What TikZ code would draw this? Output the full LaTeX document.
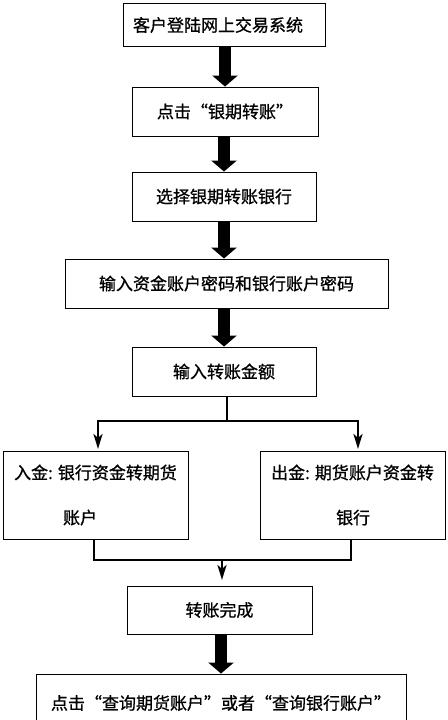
\documentclass[tikz,border=0pt]{standalone}
\usepackage{fontspec}
\newfontfamily\cjk[FakeBold=0.8]{Noto Sans CJK SC}
\usetikzlibrary{arrows.meta}
\begin{document}
\begin{tikzpicture}[x=1pt,y=1pt,
  box/.style={draw=black, line width=0.9pt, inner sep=0pt, align=center,
    font=\cjk\fontsize{17}{45}\selectfont},
  twoline/.style={box, align=left},
  bigarrow/.style={line width=12pt, -{Triangle[length=11pt,width=25pt]}},
  thinline/.style={line width=2.6pt},
  thinarrow/.style={line width=2.6pt, -{Stealth[length=15pt,width=9pt,inset=4pt]}}
]
\useasboundingbox (0,0) rectangle (447,-720);
\fill[white] (0,0) rectangle (447,-720);

\node[box, minimum width=202pt, minimum height=43pt] (b1) at (224,-25) {\hspace*{-12pt}客户登陆网上交易系统};
\node[box, minimum width=186pt, minimum height=49pt] (b2) at (225,-111.5) {点击“银期转账”};
\node[box, minimum width=184pt, minimum height=49pt] (b3) at (224,-196.5) {选择银期转账银行};
\node[box, minimum width=323pt, minimum height=49pt] (b4) at (226.5,-283.5) {输入资金账户密码和银行账户密码};
\node[box, minimum width=184pt, minimum height=49pt] (b5) at (224,-371.5) {输入转账金额};
\node[twoline, minimum width=185pt, minimum height=88pt] (b6) at (95.5,-495) {入金: 银行资金转期货\\\hspace*{49pt}账户};
\node[twoline, minimum width=185pt, minimum height=88pt] (b7) at (352.5,-495) {出金: 期货账户资金转\\\hspace*{65pt}银行};
\node[box, minimum width=185pt, minimum height=48pt] (b8) at (219.5,-610) {转账完成};
\node[box, minimum width=370pt, minimum height=58pt] (b9) at (221,-703) {点击“查询期货账户”或者“查询银行账户”};

% big arrows
\draw[bigarrow] (b1.south -| b2.north) -- (b2.north);
\draw[bigarrow] (b2.south -| b3.north) -- (b3.north);
\draw[bigarrow] (b3.south -| b3.north) -- (b4.north -| b3.north);
\draw[bigarrow] (b4.south -| b5.north) -- (b5.north);
\draw[bigarrow] (b8.south -| b9.north) -- (b9.north);

% split
\coordinate (split) at (227,-421);
\coordinate (j6) at (98,-449);
\coordinate (j7) at (358,-449);
\draw[thinline] (split |- b5.south) -- (split);
\draw[thinarrow] (split) -| (j6);
\draw[thinarrow] (split) -| (j7);

% merge
\coordinate (m6) at (94,-539);
\coordinate (m7) at (351,-539);
\coordinate (m) at (222,-560);
\coordinate (m8) at (222,-580);
\draw[thinline] (m6) |- (m) -| (m7);
\draw[thinarrow] (m) -- (m8);
\end{tikzpicture}
\end{document}
